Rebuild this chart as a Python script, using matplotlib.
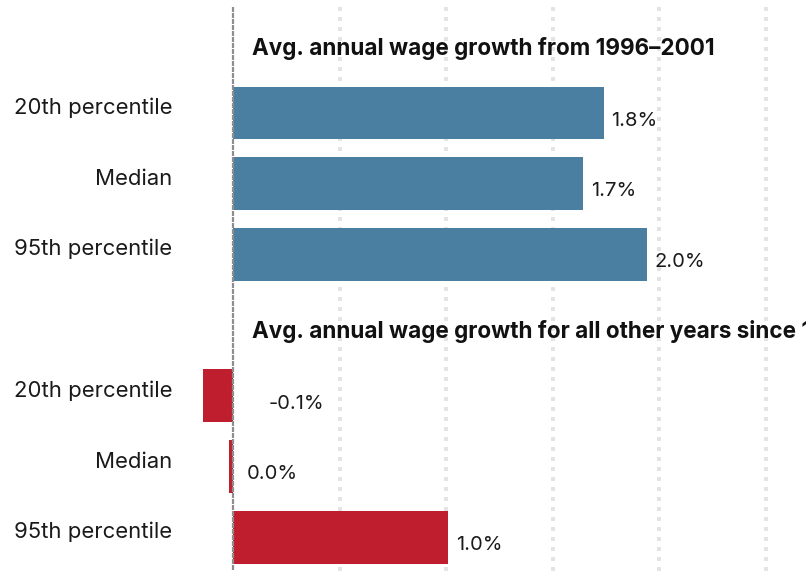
import matplotlib
matplotlib.use("Agg")
import matplotlib.pyplot as plt

plt.rcParams['font.family'] = ['Inter', 'DejaVu Sans']
plt.rcParams['lines.scale_dashes'] = False

# wage growth, percent per year
categories = ['20th percentile', 'Median', '95th percentile']
growth_1996_2001 = [1.79, 1.69, 2.00]
growth_other_years = [-0.146, -0.02, 1.04]
group_titles = ['Avg. annual wage growth from 1996\u20132001',
                'Avg. annual wage growth for all other years since 1979']
grid_ticks = [0.515, 1.03, 1.545, 2.06, 2.575]

BLUE = '#4a7fa2'
RED = '#bf1e2e'
PX = 72 / 100  # points per pixel at dpi=100
UNIT = 207     # pixels per percentage point


def fmt(v):
    s = '%.1f%%' % v
    return '0.0%' if s == '-0.0%' else s


fig = plt.figure(figsize=(8.06, 5.71), dpi=100)
ax = fig.add_axes([0, 0, 1, 1])
ax.set_xlim(-233 / UNIT, 573 / UNIT)
ax.set_ylim(6.478, -1.598)
ax.axis('off')

# dotted gridlines behind the bars
for g in grid_ticks:
    ax.plot([g, g], [-1.5, 6.478], color='#e4e4e4', lw=4 * PX,
            dashes=(4 * PX, 6 * PX), solid_capstyle='butt',
            dash_capstyle='butt', zorder=1)

groups = [(growth_1996_2001, BLUE, 0), (growth_other_years, RED, 4)]
for k, (vals, color, start) in enumerate(groups):
    pos = [start + i for i in range(len(vals))]
    ax.barh(pos, vals, height=0.745, color=color, zorder=2)
    ax.text(19 / UNIT, start - 1 + 0.18, group_titles[k], fontsize=16.2,
            fontweight='bold', color='#111111', va='baseline', ha='left')
    for p, v, c in zip(pos, vals, categories):
        ax.annotate(c, (0, p + 0.015), xytext=(-61 * PX, 0),
                    textcoords='offset points', ha='right', va='baseline',
                    fontsize=15.9, color='#1a1a1a')
        if v >= 0.05:
            x, pad = v, 8
        elif v < -0.1:
            x, pad = 0, 36
        else:
            x, pad = 0, 14
        ax.annotate(fmt(v), (x, p + 0.18), xytext=(pad * PX, 0),
                    textcoords='offset points', ha='left', va='baseline',
                    fontsize=14.5, color='#1a1a1a')

# zero line on top
ax.plot([0, 0], [-1.5, 6.478], color='#8e8e8e', lw=2.2 * PX,
        dashes=(5 * PX, 1 * PX), solid_capstyle='butt',
        dash_capstyle='butt', zorder=3)

fig.savefig('out.png', dpi=100)
